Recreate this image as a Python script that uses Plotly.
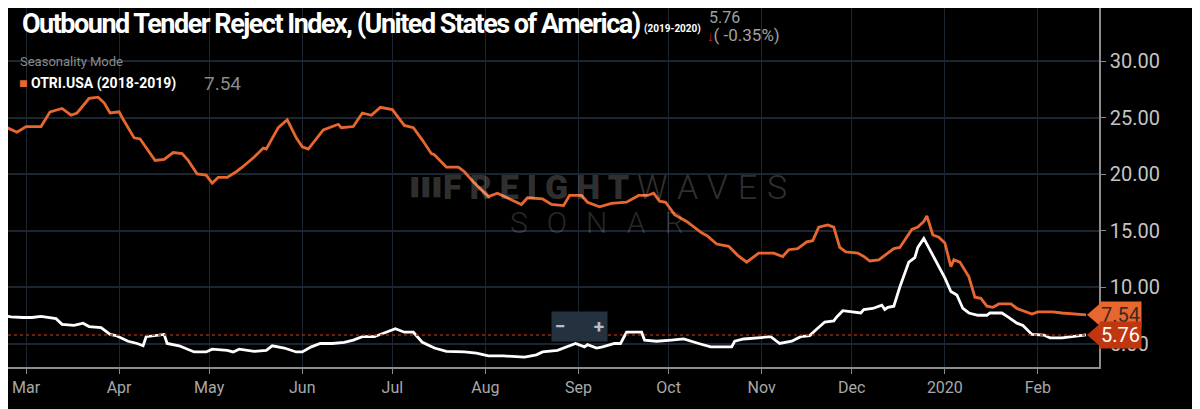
import plotly.graph_objects as go

# seasonality mode: the 2018-2019 series is drawn on the 2019-2020 calendar
dates_prev = ["2019-02-21", "2019-02-26", "2019-03-01", "2019-03-06", "2019-03-09", "2019-03-13",
              "2019-03-16", "2019-03-18", "2019-03-22", "2019-03-25", "2019-03-27", "2019-03-29",
              "2019-04-01", "2019-04-02", "2019-04-06", "2019-04-08", "2019-04-13", "2019-04-16",
              "2019-04-19", "2019-04-22", "2019-04-24", "2019-04-27", "2019-04-30", "2019-05-02",
              "2019-05-04", "2019-05-07", "2019-05-10", "2019-05-12", "2019-05-16", "2019-05-19",
              "2019-05-20", "2019-05-24", "2019-05-27", "2019-05-30", "2019-06-01", "2019-06-03",
              "2019-06-08", "2019-06-11", "2019-06-13", "2019-06-14", "2019-06-18", "2019-06-21",
              "2019-06-24", "2019-06-27", "2019-06-30", "2019-07-01", "2019-07-05", "2019-07-08",
              "2019-07-11", "2019-07-14", "2019-07-15", "2019-07-19", "2019-07-23", "2019-07-25",
              "2019-07-28", "2019-08-02", "2019-08-05", "2019-08-08", "2019-08-13", "2019-08-15",
              "2019-08-20", "2019-08-23", "2019-08-27", "2019-08-29", "2019-09-02", "2019-09-04",
              "2019-09-08", "2019-09-12", "2019-09-17", "2019-09-21", "2019-09-24", "2019-09-26",
              "2019-09-28", "2019-09-30", "2019-10-03", "2019-10-07", "2019-10-12", "2019-10-14",
              "2019-10-17", "2019-10-21", "2019-10-24", "2019-10-27", "2019-10-31", "2019-11-05",
              "2019-11-08", "2019-11-10", "2019-11-13", "2019-11-16", "2019-11-18", "2019-11-20",
              "2019-11-23", "2019-11-25", "2019-11-27", "2019-11-29", "2019-12-03", "2019-12-05",
              "2019-12-07", "2019-12-10", "2019-12-13", "2019-12-15", "2019-12-17", "2019-12-21",
              "2019-12-23", "2019-12-25", "2019-12-26", "2019-12-28", "2019-12-30", "2020-01-01",
              "2020-01-03", "2020-01-04", "2020-01-06", "2020-01-09", "2020-01-11", "2020-01-13",
              "2020-01-15", "2020-01-17", "2020-01-19", "2020-01-23", "2020-01-25", "2020-01-27",
              "2020-01-30", "2020-02-01", "2020-02-06", "2020-02-09", "2020-02-13", "2020-02-17"]
otri_prev = [24.3, 23.7, 24.2, 24.2, 25.5, 25.8,
             25.2, 25.4, 26.7, 26.8, 26.3, 25.4,
             25.5, 25.0, 23.2, 23.1, 21.2, 21.3,
             21.9, 21.8, 21.2, 20.0, 19.9, 19.2,
             19.7, 19.7, 20.2, 20.6, 21.5, 22.3,
             22.2, 24.1, 24.8, 23.2, 22.4, 22.2,
             23.9, 24.2, 24.4, 24.1, 24.2, 25.4,
             25.2, 25.9, 25.8, 25.7, 24.3, 24.1,
             23.0, 21.8, 21.7, 20.6, 20.6, 20.2,
             19.3, 18.0, 18.3, 17.9, 17.3, 17.9,
             17.8, 17.3, 17.2, 18.1, 18.1, 17.5,
             17.1, 17.4, 17.5, 18.1, 18.1, 18.3,
             17.6, 17.5, 16.4, 15.8, 14.8, 14.5,
             13.8, 13.6, 12.8, 12.2, 13.0, 13.0,
             12.7, 13.3, 13.4, 14.0, 14.1, 15.3,
             15.5, 15.3, 13.5, 13.1, 13.0, 12.7,
             12.3, 12.4, 13.0, 13.4, 13.5, 15.1,
             15.3, 15.8, 16.3, 14.6, 14.4, 13.9,
             11.8, 12.4, 12.2, 10.9, 9.1, 9.0,
             8.3, 8.2, 8.5, 8.5, 8.1, 7.9,
             7.6, 7.8, 7.8, 7.7, 7.6, 7.54]

dates_cur = ["2019-02-21", "2019-02-24", "2019-02-28", "2019-03-03", "2019-03-06", "2019-03-08",
             "2019-03-11", "2019-03-13", "2019-03-17", "2019-03-20", "2019-03-22", "2019-03-26",
             "2019-03-29", "2019-03-31", "2019-04-04", "2019-04-07", "2019-04-09", "2019-04-10",
             "2019-04-14", "2019-04-16", "2019-04-17", "2019-04-21", "2019-04-26", "2019-04-30",
             "2019-05-02", "2019-05-07", "2019-05-09", "2019-05-11", "2019-05-16", "2019-05-20",
             "2019-05-22", "2019-05-26", "2019-05-30", "2019-06-01", "2019-06-04", "2019-06-07",
             "2019-06-11", "2019-06-15", "2019-06-18", "2019-06-21", "2019-06-25", "2019-06-28",
             "2019-07-02", "2019-07-05", "2019-07-08", "2019-07-11", "2019-07-15", "2019-07-19",
             "2019-07-25", "2019-07-29", "2019-08-02", "2019-08-07", "2019-08-14", "2019-08-18",
             "2019-08-20", "2019-08-25", "2019-08-28", "2019-08-31", "2019-09-03", "2019-09-04",
             "2019-09-07", "2019-09-09", "2019-09-13", "2019-09-15", "2019-09-17", "2019-09-22",
             "2019-09-23", "2019-09-27", "2019-10-02", "2019-10-06", "2019-10-11", "2019-10-15",
             "2019-10-22", "2019-10-23", "2019-10-26", "2019-10-31", "2019-11-04", "2019-11-07",
             "2019-11-11", "2019-11-14", "2019-11-17", "2019-11-19", "2019-11-22", "2019-11-25",
             "2019-11-26", "2019-11-28", "2019-12-01", "2019-12-04", "2019-12-05", "2019-12-08",
             "2019-12-11", "2019-12-12", "2019-12-13", "2019-12-15", "2019-12-17", "2019-12-20",
             "2019-12-22", "2019-12-23", "2019-12-25", "2019-12-27", "2019-12-28", "2019-12-31",
             "2020-01-01", "2020-01-03", "2020-01-05", "2020-01-07", "2020-01-09", "2020-01-12",
             "2020-01-15", "2020-01-16", "2020-01-20", "2020-01-22", "2020-01-25", "2020-01-27",
             "2020-01-30", "2020-02-03", "2020-02-05", "2020-02-09", "2020-02-13", "2020-02-17"]
otri_cur = [7.5, 7.35, 7.3, 7.3, 7.4, 7.3,
            7.2, 6.7, 6.6, 6.8, 6.5, 6.4,
            5.8, 5.7, 5.2, 5.0, 4.8, 5.6,
            5.7, 5.8, 5.0, 4.8, 4.25, 4.25,
            4.5, 4.4, 4.25, 4.5, 4.3, 4.4,
            4.8, 4.6, 4.25, 4.25, 4.7, 5.0,
            5.0, 5.1, 5.3, 5.6, 5.6, 5.9,
            6.3, 6.0, 6.0, 5.1, 4.6, 4.3,
            4.25, 4.15, 3.9, 3.9, 3.8, 4.0,
            4.25, 4.4, 4.7, 5.0, 4.7, 4.9,
            4.6, 4.7, 5.0, 5.0, 6.0, 6.0,
            5.3, 5.2, 5.3, 5.4, 5.0, 4.7,
            4.7, 5.2, 5.4, 5.5, 5.6, 5.0,
            5.2, 5.6, 5.7, 6.2, 6.9, 7.0,
            7.35, 7.9, 7.8, 7.7, 8.0, 8.1,
            8.4, 8.0, 8.2, 8.3, 10.0, 12.2,
            12.6, 13.5, 14.3, 13.3, 12.9, 11.3,
            10.8, 9.6, 9.3, 8.1, 7.7, 7.5,
            7.5, 7.7, 7.7, 7.35, 6.8, 6.6,
            5.8, 5.75, 5.5, 5.5, 5.6, 5.76]

month_ticks = ["2019-03-01", "2019-04-01", "2019-05-01", "2019-06-01", "2019-07-01", "2019-08-01",
               "2019-09-01", "2019-10-01", "2019-11-01", "2019-12-01", "2020-01-01", "2020-02-01"]
month_labels = ["Mar", "Apr", "May", "Jun", "Jul", "Aug", "Sep", "Oct", "Nov", "Dec", "2020", "Feb"]

last_prev = 7.54
last_cur = 5.76
change_pct = -0.35

orange = "#e8672f"
red_tag = "#c0360f"
grid = "#1c2631"

fig = go.Figure()

fig.add_trace(go.Scatter(x=dates_prev, y=otri_prev, mode="lines",
                         line=dict(color=orange, width=2.8), name="OTRI.USA (2018-2019)"))
fig.add_trace(go.Scatter(x=dates_cur, y=otri_cur, mode="lines",
                         line=dict(color="white", width=2.8), name="OTRI.USA (2019-2020)"))

# dotted reference at the latest value
fig.add_hline(y=last_cur, line=dict(color="#8a2c14", width=1.5, dash="dot"))

fig.update_xaxes(range=["2019-02-23 00:00", "2020-02-21 08:00"],
                 tickvals=month_ticks, ticktext=month_labels,
                 showgrid=True, gridcolor=grid, gridwidth=1,
                 showline=True, linecolor="#8c8c8c", linewidth=1.5,
                 ticks="outside", ticklen=5, tickcolor="#8c8c8c",
                 tickfont=dict(family="Roboto", size=16, color="#a8a8a8"),
                 zeroline=False)
fig.update_yaxes(range=[2.92, 34.69], side="right", dtick=5, tick0=0, tickformat=".2f",
                 showgrid=True, gridcolor=grid, gridwidth=1.5,
                 showline=True, linecolor="#8c8c8c", linewidth=1.5,
                 ticks="outside", ticklen=5, tickcolor="#8c8c8c",
                 tickfont=dict(family="Roboto", size=20, color="#c4c4c4"),
                 zeroline=False)

# value tags on the right edge
for val, col, txtcol in [(last_prev, orange, "#3a2a20"), (last_cur, red_tag, "white")]:
    fig.add_shape(type="path", xref="paper", yref="y",
                  path=f"M 0.989 {val} L 1.001 {val + 1.0} L 1.001 {val - 1.0} Z",
                  fillcolor=col, line=dict(width=0))
    fig.add_annotation(x=1.0, y=val, xref="paper", yref="y", xanchor="left", yanchor="middle",
                       text=f"{val:.2f}", showarrow=False, bgcolor=col, borderpad=1,
                       font=dict(family="Roboto", size=20, color=txtcol))

# watermark (translucent so the lines stay visible through it)
wm = "rgba(255,255,255,0.2)"
fig.add_annotation(x=0.362, y=0.501, xref="paper", yref="paper", xanchor="left", yanchor="middle",
                   text="<span style='letter-spacing:-2px'>▐▐▐</span>", showarrow=False,
                   font=dict(family="DejaVu Sans", size=17, color=wm))
fig.add_annotation(x=0.397, y=0.501, xref="paper", yref="paper", xanchor="left", yanchor="middle",
                   text="<span style='letter-spacing:8px'>FREIGHT</span>"
                        "<span style='letter-spacing:10px;font-weight:300'>WAVES</span>",
                   showarrow=False,
                   font=dict(family="Roboto", size=34, color=wm, weight=900))
fig.add_annotation(x=0.458, y=0.4025, xref="paper", yref="paper", xanchor="left", yanchor="middle",
                   text="<span style='letter-spacing:19px'>SONAR</span>", showarrow=False,
                   font=dict(family="Roboto", size=30, color="rgba(255,255,255,0.17)", weight=300))

# zoom buttons
fig.add_annotation(x=0.524, y=0.113, xref="paper", yref="paper", xanchor="center", yanchor="middle",
                   text="<b>−</b>      <b>+</b>", showarrow=False, bgcolor="#243240",
                   borderpad=3, font=dict(family="Roboto", size=19, color="#b8c0c8"))

# title block
fig.add_annotation(x=0.011, y=0.955, xref="paper", yref="paper", xanchor="left", yanchor="middle",
                   text="<span style='letter-spacing:-1.5px'><b>Outbound Tender Reject Index, "
                        "(United States of America)</b></span>",
                   showarrow=False, font=dict(family="Roboto", size=27, color="white"))
fig.add_annotation(x=0.581, y=0.941, xref="paper", yref="paper", xanchor="left", yanchor="middle",
                   text="<b>(2019-2020)</b>", showarrow=False,
                   font=dict(family="Roboto", size=10, color="white"))
fig.add_annotation(x=0.641, y=0.973, xref="paper", yref="paper", xanchor="left", yanchor="middle",
                   text=f"{last_cur:.2f}", showarrow=False,
                   font=dict(family="Roboto", size=16, color="#a0a0a0"))
fig.add_annotation(x=0.639, y=0.925, xref="paper", yref="paper", xanchor="left", yanchor="middle",
                   text=f"<span style='color:#e0202a;font-size:13px'><b>↓</b></span>( {change_pct:.2f}%)",
                   showarrow=False, font=dict(family="Roboto", size=17, color="#a0a0a0"))

# legend block
fig.add_annotation(x=0.009, y=0.85, xref="paper", yref="paper", xanchor="left", yanchor="middle",
                   text="Seasonality Mode", showarrow=False,
                   font=dict(family="Roboto", size=13, color="#8a8a8a"))
fig.add_annotation(x=0.008, y=0.791, xref="paper", yref="paper", xanchor="left", yanchor="middle",
                   text=f"<span style='color:{orange}'>■</span> <b>OTRI.USA (2018-2019)</b>",
                   showarrow=False, font=dict(family="Roboto", size=14, color="white"))
fig.add_annotation(x=0.178, y=0.791, xref="paper", yref="paper", xanchor="left", yanchor="middle",
                   text=f"{last_prev:.2f}", showarrow=False,
                   font=dict(family="Roboto", size=19, color="#8a8a8a"))

# right border of the panel
fig.add_shape(type="line", xref="paper", yref="paper", x0=1.0907, x1=1.0907, y0=-0.2, y1=1.05,
              line=dict(color="#3a3a3a", width=1))

# the page puts the figure 8px in from the top-left corner, so the plot area is laid out for that
fig.update_layout(width=1200, height=409, paper_bgcolor="black", plot_bgcolor="black",
                  margin=dict(l=0, r=109, t=0, b=50), showlegend=False)

fig.write_html("out.html")
